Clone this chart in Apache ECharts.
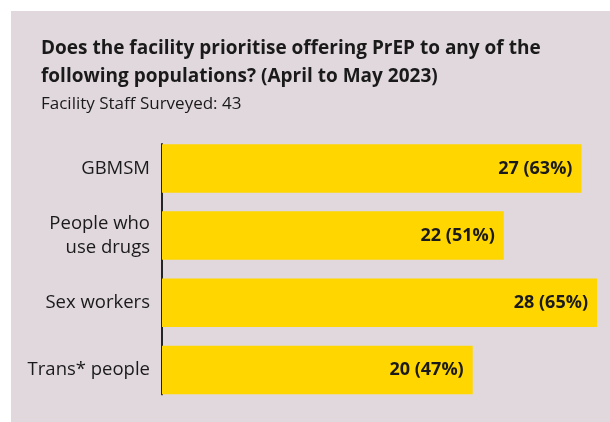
<!DOCTYPE html>
<html>
<head>
<meta charset="utf-8">
<style>
  html, body { margin: 0; padding: 0; background: #ffffff; }
  #chart { width: 610px; height: 422px; }
</style>
<script src="https://cdn.jsdelivr.net/npm/echarts@6/dist/echarts.min.js"></script>
</head>
<body>
<div id="chart"></div>
<script>
// Populations asked about, top to bottom
const categories = ['GBMSM', 'People who\nuse drugs', 'Sex workers', 'Trans* people'];
// Number of facility staff answering "yes" for each population
const counts = [27, 22, 28, 20];
// Share of all staff surveyed, in percent
const percents = [63, 51, 65, 47];
const surveyed = 43;

const FONT = '"Open Sans", "Noto Sans", sans-serif';
const PANEL = '#e0d8dd';
const BAR = '#ffd600';
const INK = '#1a1a1a';

const chart = echarts.init(document.getElementById('chart'), null, { renderer: 'canvas' });

chart.setOption({
  backgroundColor: '#ffffff',
  animation: false,
  graphic: [{
    type: 'rect',
    z: -10,
    shape: { x: 11, y: 11, width: 599, height: 411 },
    style: { fill: PANEL }
  }],
  title: {
    left: 36,
    top: 30,
    text: 'Does the facility prioritise offering PrEP to any of the\nfollowing populations? (April to May 2023)',
    textStyle: { fontFamily: FONT, fontWeight: 'bold', fontSize: 19, lineHeight: 28, color: INK },
    subtext: 'Facility Staff Surveyed: ' + surveyed,
    subtextStyle: { fontFamily: FONT, fontSize: 17, color: INK, lineHeight: 24 },
    itemGap: 1
  },
  grid: [
    // bars
    { left: 162, right: 13, top: 134.8, height: 268.8, containLabel: false },
    // axis spine spanning first bar top to last bar bottom
    { left: 162, right: 13, top: 144, height: 250.4, containLabel: false }
  ],
  xAxis: [
    { gridIndex: 0, type: 'value', min: 0, max: 28, show: false },
    { gridIndex: 1, type: 'value', min: 0, max: 28, show: false }
  ],
  yAxis: [
    {
      gridIndex: 0,
      type: 'category',
      data: categories,
      inverse: true,
      axisLine: { show: false },
      axisTick: { show: false },
      axisLabel: {
        margin: 12,
        fontFamily: FONT,
        fontSize: 18.5,
        lineHeight: 24,
        color: INK,
        align: 'right'
      }
    },
    {
      gridIndex: 1,
      type: 'value',
      min: 0,
      max: 1,
      axisLine: { show: true, lineStyle: { color: '#111111', width: 1.8 } },
      axisTick: { show: false },
      axisLabel: { show: false },
      splitLine: { show: false }
    }
  ],
  series: [{
    type: 'bar',
    xAxisIndex: 0,
    yAxisIndex: 0,
    data: counts,
    barWidth: 48.5,
    itemStyle: { color: BAR },
    label: {
      show: true,
      position: 'insideRight',
      distance: 9,
      fontFamily: FONT,
      fontWeight: 'bold',
      fontSize: 18,
      color: INK,
      formatter: p => p.value + ' (' + percents[p.dataIndex] + '%)'
    }
  }]
});
</script>
</body>
</html>
